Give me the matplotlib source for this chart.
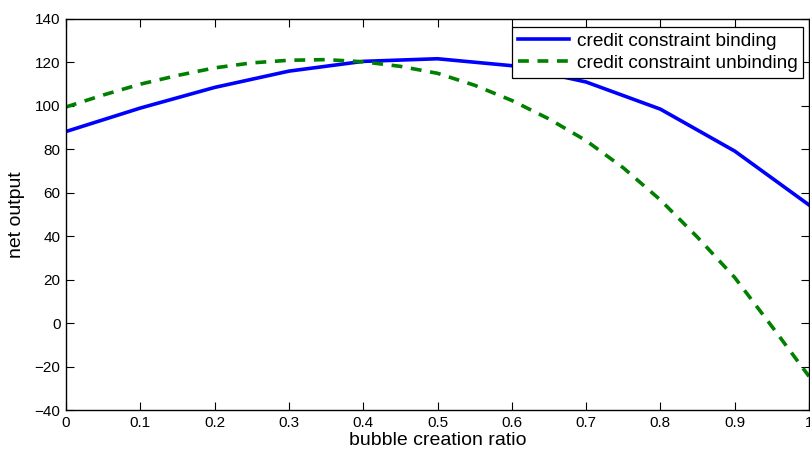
import numpy as np
import matplotlib
matplotlib.use("Agg")
import matplotlib.pyplot as plt

plt.rcParams['font.family'] = ['Liberation Sans', 'DejaVu Sans']

# bubble creation ratio
ratio_bind = [0.0, 0.1, 0.2, 0.3, 0.4, 0.5, 0.6, 0.7, 0.8, 0.9, 1.0]
output_bind = [88.2, 99.0, 108.5, 116.0, 120.5, 121.7, 118.5, 111.0, 98.5, 79.2, 54.4]

ratio_unbind = [0.0, 0.05, 0.1, 0.15, 0.2, 0.25, 0.3, 0.35, 0.4, 0.45, 0.5,
                0.55, 0.6, 0.65, 0.7, 0.75, 0.8, 0.85, 0.9, 0.95, 1.0]
output_unbind = [99.5, 105.0, 110.0, 114.0, 117.5, 119.8, 121.0, 121.3, 120.3,
                 118.2, 115.0, 109.5, 102.5, 94.0, 84.0, 71.5, 56.7, 39.5, 21.0,
                 -1.5, -24.5]

fig = plt.figure(figsize=(8.1, 4.55), dpi=100)
ax = fig.add_axes([66/810, 45/455, 743/810, 391/455])

ax.plot(ratio_bind, output_bind, color='#0000ff', linewidth=2.6,
        label='credit constraint binding')
ax.plot(ratio_unbind, output_unbind, color='#008000', linewidth=2.6,
        dashes=(3.0, 2.4), label='credit constraint unbinding')

ax.set_xlim(0, 1)
ax.set_ylim(-40, 140)
ax.set_xticks(np.arange(0, 1.01, 0.1))
ax.set_xticklabels(['0', '0.1', '0.2', '0.3', '0.4', '0.5', '0.6', '0.7', '0.8', '0.9', '1'])
ax.set_yticks(np.arange(-40, 141, 20))
ax.set_yticklabels(['\u221240', '\u221220', '0', '20', '40', '60', '80', '100', '120', '140'])
ax.tick_params(direction='in', length=6, width=0.8, top=True, right=True,
               labelsize=11, pad=4)
for s in ax.spines.values():
    s.set_linewidth(1.0)

ax.set_xlabel('bubble creation ratio', fontsize=14, labelpad=2)
ax.set_ylabel('net output', fontsize=14, labelpad=7)

leg = ax.legend(loc='upper right', bbox_to_anchor=(0.9925, 0.98), fontsize=13.7,
                fancybox=False, framealpha=1, edgecolor='black',
                handlelength=2.7, borderpad=0.3, labelspacing=0.25,
                handletextpad=0.4, borderaxespad=0)
leg.get_frame().set_linewidth(0.9)

fig.savefig('out.png', dpi=100)
